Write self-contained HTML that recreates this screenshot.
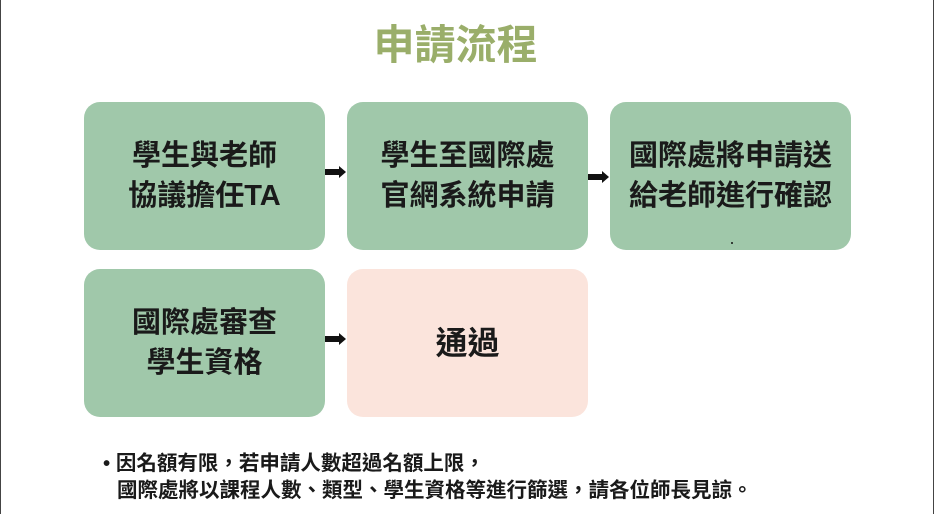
<!DOCTYPE html>
<html><head><meta charset="utf-8"><style>
html,body{margin:0;padding:0;}
body{width:935px;height:514px;position:relative;background:#fff;overflow:hidden;font-family:"Liberation Sans","Noto Sans CJK TC",sans-serif;}
.bl{position:absolute;top:0;bottom:0;width:1px;background:#444;}
.t{position:absolute;left:-12px;width:935px;top:17px;text-align:center;font-size:41px;font-weight:bold;color:#9aae6a;line-height:56px;}
.b{position:absolute;width:241px;height:148px;border-radius:16px;background:#a0c8aa;display:flex;align-items:center;justify-content:center;text-align:center;font-size:29px;font-weight:bold;color:#1a1a1a;line-height:40px;}
.p{background:#fbe4dc;font-size:32px;}
.a{position:absolute;}
.n{position:absolute;left:103px;font-size:20.5px;font-weight:bold;color:#1a1a1a;line-height:26px;}
</style></head><body>
<div class="bl" style="left:0"></div><div class="bl" style="left:933px"></div>
<div class="t">申請流程</div>
<div class="b" style="left:84px;top:102px">學生與老師<br>協議擔任TA</div>
<div class="b" style="left:347px;top:102px">學生至國際處<br>官網系統申請</div>
<div class="b" style="left:610px;top:102px">國際處將申請送<br>給老師進行確認</div>
<div class="b" style="left:84px;top:269px">國際處審查<br>學生資格</div>
<div class="b p" style="left:347px;top:269px">通過</div>
<svg class="a" style="left:0;top:0" width="935" height="514">
<g fill="#111">
<rect x="325" y="169" width="15" height="6"/><polygon points="339,166 346,172 339,178"/>
<rect x="588" y="174" width="15" height="6"/><polygon points="602,171 609,177 602,183"/>
<rect x="325" y="336" width="15" height="6"/><polygon points="339,333 346,339 339,345"/>
<circle cx="732" cy="243" r="1"/>
</g></svg>
<div class="n" style="top:451px">• 因名額有限，若申請人數超過名額上限，</div>
<div class="n" style="top:478px;left:117px">國際處將以課程人數、類型、學生資格等進行篩選，請各位師長見諒。</div>
</body></html>
